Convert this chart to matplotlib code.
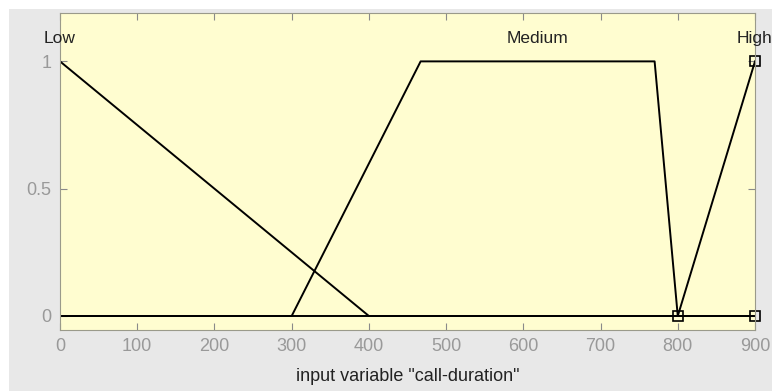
import matplotlib
matplotlib.use("Agg")
from matplotlib import pyplot as plt
from matplotlib.patches import Rectangle

plt.rcParams['font.family'] = ['Liberation Sans', 'DejaVu Sans']

# membership functions of "call-duration"
x_low = [0, 400, 900]
y_low = [1, 0, 0]
x_med = [0, 300, 467, 770, 800, 900]
y_med = [0, 0, 1, 1, 0, 0]
x_high = [0, 800, 900]
y_high = [0, 0, 1]
high_pts_x = [800, 900, 900]
high_pts_y = [0, 0, 1]

names = ["Low", "Medium", "High"]
name_x = [0, 618.5, 900]

xticks = [0, 100, 200, 300, 400, 500, 600, 700, 800, 900]
yticks = [0, 0.5, 1]

fig = plt.figure(figsize=(7.72, 3.91), dpi=100, facecolor='white')
fig.patches.append(Rectangle((9 / 772, 0), 1, 1 - 9 / 391, transform=fig.transFigure,
                             facecolor='#e8e8e8', edgecolor='none', zorder=-10))

ax = fig.add_axes([60 / 772, 1 - 330 / 391, 695 / 772, 317 / 391])
ax.set_facecolor('#fffdd0')

ax.plot(x_low, y_low, color='black', lw=1.4)
ax.plot(x_med, y_med, color='black', lw=1.4)
ax.plot(x_high, y_high, color='black', lw=1.4)
ax.plot(high_pts_x, high_pts_y, ls='none', marker='s', ms=7, mfc='none',
        mec='black', mew=1.2, clip_on=False)

for n, xv in zip(names, name_x):
    ax.text(xv, 1.06, n, ha='center', va='bottom', fontsize=12.5, color='#222222')

ax.set_xlim(0, 900)
ax.set_ylim(-0.055, 1.19)
ax.set_xticks(xticks)
ax.set_yticks(yticks)
ax.set_yticklabels(['0', '0.5', '1'])
ax.tick_params(direction='in', length=5, top=True, right=True, colors='#8a8a8a',
               labelsize=13, labelcolor='#999999', pad=6)
for s in ax.spines.values():
    s.set_color('#9a9a8a')
ax.set_xlabel('input variable "call-duration"', fontsize=13, color='#222222', labelpad=9)

plt.savefig("out.png", dpi=100)
